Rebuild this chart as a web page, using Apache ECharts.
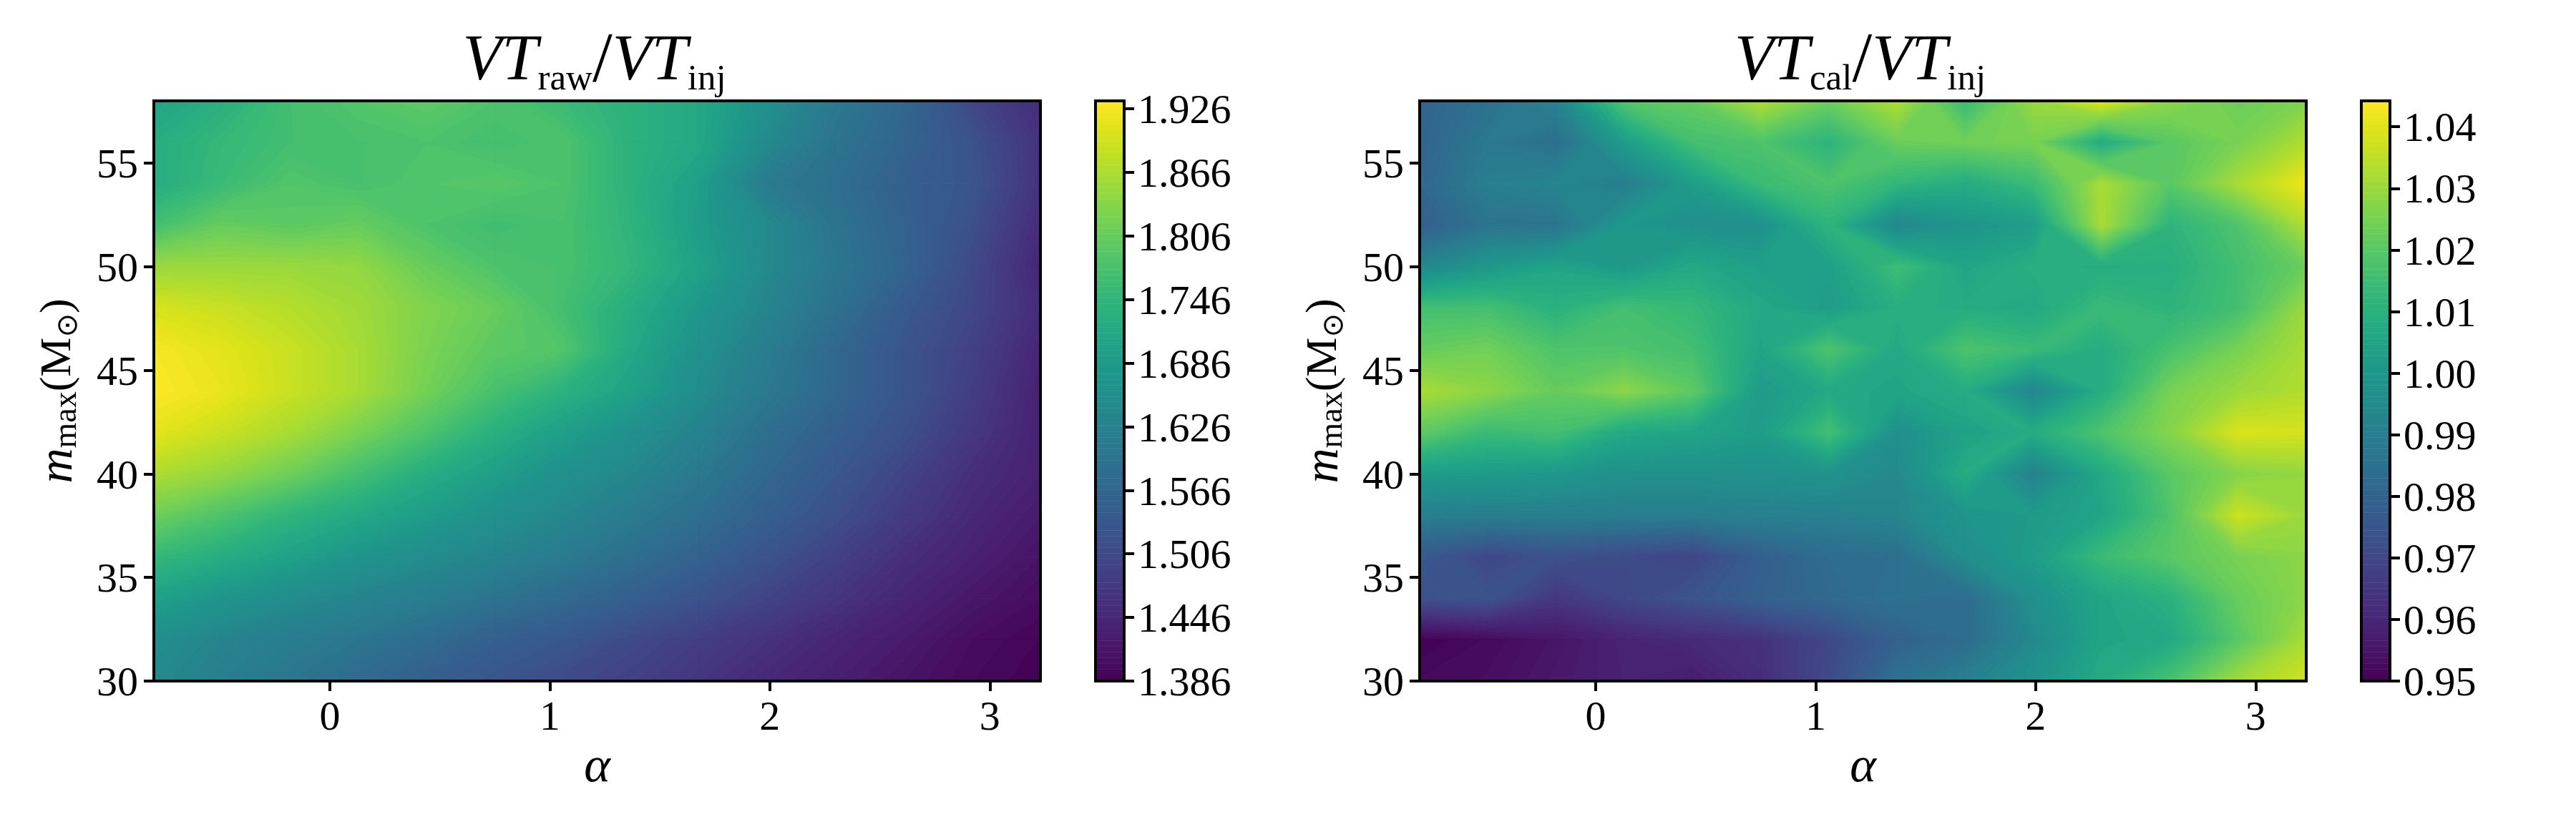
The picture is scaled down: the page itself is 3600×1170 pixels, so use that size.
<!DOCTYPE html>
<html>
<head>
<meta charset="utf-8">
<style>html,body{margin:0;padding:0;background:#fff}#chart{width:3600px;height:1170px}</style>
<script src="https://cdn.jsdelivr.net/npm/echarts@6/dist/echarts.min.js"></script>
</head>
<body>
<div id="chart"></div>
<script>
// Grid coordinates shared by both maps
const alphas = [-0.8,-0.49,-0.18,0.13,0.44,0.75,1.06,1.37,1.68,1.99,2.3,2.61,2.92,3.23];
const masses = [58,56,54,52,50,48,46,44,42,40,38,36,34,32,30];

// Ratio of raw sensitive volume to the injected one, one row per m_max
const vtRaw = [
  [1.703,1.731,1.769,1.785,1.796,1.780,1.758,1.736,1.714,1.660,1.605,1.567,1.500,1.452],
  [1.725,1.752,1.769,1.774,1.780,1.769,1.780,1.736,1.714,1.643,1.594,1.561,1.523,1.463],
  [1.725,1.758,1.785,1.774,1.785,1.791,1.780,1.736,1.692,1.610,1.583,1.550,1.528,1.463],
  [1.769,1.807,1.796,1.807,1.780,1.766,1.774,1.742,1.687,1.643,1.594,1.556,1.517,1.452],
  [1.851,1.851,1.851,1.845,1.807,1.780,1.774,1.747,1.698,1.643,1.599,1.561,1.506,1.441],
  [1.900,1.889,1.873,1.856,1.829,1.807,1.769,1.725,1.676,1.632,1.588,1.539,1.501,1.452],
  [1.928,1.911,1.889,1.862,1.824,1.796,1.785,1.714,1.660,1.616,1.567,1.528,1.490,1.441],
  [1.933,1.917,1.889,1.862,1.818,1.774,1.736,1.698,1.649,1.605,1.567,1.528,1.484,1.435],
  [1.911,1.889,1.862,1.824,1.780,1.731,1.692,1.660,1.627,1.583,1.550,1.517,1.474,1.435],
  [1.867,1.845,1.813,1.769,1.725,1.692,1.660,1.638,1.605,1.567,1.534,1.495,1.457,1.435],
  [1.813,1.780,1.742,1.714,1.687,1.660,1.638,1.610,1.583,1.550,1.517,1.479,1.446,1.424],
  [1.752,1.725,1.698,1.670,1.649,1.632,1.610,1.583,1.556,1.523,1.490,1.457,1.435,1.413],
  [1.698,1.670,1.649,1.632,1.616,1.594,1.572,1.550,1.523,1.495,1.468,1.441,1.419,1.402],
  [1.654,1.632,1.616,1.599,1.577,1.550,1.534,1.506,1.484,1.463,1.441,1.424,1.402,1.391],
  [1.643,1.621,1.599,1.572,1.550,1.528,1.506,1.490,1.468,1.446,1.430,1.413,1.397,1.386]
];

// Same ratio after calibration
const vtCal = [
  [0.980,0.985,0.992,1.019,1.022,1.033,1.023,1.033,1.014,1.030,1.040,1.028,1.023,1.026],
  [0.980,0.988,0.984,1.002,1.016,1.018,1.011,1.023,1.024,1.025,1.008,1.020,1.025,1.033],
  [0.981,0.990,0.993,0.990,1.002,1.014,1.018,1.012,1.008,1.014,1.032,1.020,1.032,1.042],
  [0.978,0.986,0.986,1.000,0.997,0.997,1.011,0.993,0.999,1.002,1.032,1.011,1.018,1.033],
  [0.993,1.000,1.005,1.000,1.0065,1.003,1.003,1.015,1.005,1.009,1.008,1.009,1.016,1.023],
  [1.016,1.016,1.010,1.016,1.013,1.0065,1.002,1.009,1.008,1.0065,1.014,1.011,1.016,1.030],
  [1.022,1.024,1.018,1.018,1.016,1.005,1.018,1.0065,1.018,1.014,1.008,1.017,1.025,1.032],
  [1.032,1.028,1.022,1.028,1.021,1.001,1.0065,1.005,1.008,0.993,1.008,1.025,1.030,1.033],
  [1.021,1.014,1.016,1.0065,1.005,1.002,1.016,0.997,1.004,1.008,1.018,1.027,1.039,1.038],
  [1.002,1.001,1.000,0.997,0.997,0.997,0.998,0.994,1.008,0.991,1.0065,1.020,1.027,1.029],
  [0.990,0.990,0.990,0.990,0.990,0.991,0.991,0.993,0.999,1.001,1.005,1.018,1.037,1.030],
  [0.976,0.970,0.973,0.971,0.969,0.978,0.983,0.984,0.996,1.002,1.014,1.020,1.025,1.028],
  [0.973,0.974,0.965,0.970,0.974,0.979,0.982,0.985,0.983,0.997,1.005,1.010,1.0225,1.028],
  [0.950,0.952,0.955,0.959,0.961,0.963,0.970,0.979,0.983,0.994,1.005,1.0065,1.020,1.032],
  [0.952,0.953,0.956,0.9585,0.957,0.962,0.971,0.985,0.9905,0.998,1.0075,1.017,1.031,1.0375]
];

const alphaTicks = [0,1,2,3];
const massTicks = [30,35,40,45,50,55];
const rawBarTicks = [1.386,1.446,1.506,1.566,1.626,1.686,1.746,1.806,1.866,1.926];
const calBarTicks = [0.95,0.96,0.97,0.98,0.99,1.00,1.01,1.02,1.03,1.04];

const viridis = ['#440154','#481567','#482677','#453781','#404788','#39568c','#33638d','#2d708e','#287d8e','#238a8d',
                 '#1f968b','#20a387','#29af7f','#3cbb75','#55c667','#73d055','#95d840','#b8de29','#dce319','#fde725'];

const BAND_COUNT = 100;
const SERIF = '"Liberation Serif", serif';

function colourAt(t) {
  const p = Math.max(0, Math.min(1, t)) * (viridis.length - 1);
  const i = Math.min(Math.floor(p), viridis.length - 2);
  const f = p - i;
  const rgb = k => {
    const a = parseInt(viridis[i].substr(1 + 2 * k, 2), 16);
    const b = parseInt(viridis[i + 1].substr(1 + 2 * k, 2), 16);
    return Math.round(a + (b - a) * f);
  };
  return `rgb(${rgb(0)},${rgb(1)},${rgb(2)})`;
}

// Outline of the part of a cell whose value lies between lo and hi
function bandOutline(corners, lo, hi) {
  const out = [];
  for (let n = 0; n < corners.length; n++) {
    const p = corners[n], q = corners[(n + 1) % corners.length];
    if (p[2] >= lo && p[2] <= hi) out.push([p[0], p[1]]);
    const cuts = p[2] < q[2] ? [lo, hi] : [hi, lo];
    for (const c of cuts) {
      if ((c > p[2] && c < q[2]) || (c < p[2] && c > q[2])) {
        const f = (c - p[2]) / (q[2] - p[2]);
        out.push([p[0] + (q[0] - p[0]) * f, p[1] + (q[1] - p[1]) * f]);
      }
    }
  }
  return out;
}

function contourSeries(values, barMin, barMax, axisIndex) {
  const step = (barMax - barMin) / BAND_COUNT;
  const cells = [];
  for (let r = 0; r < masses.length - 1; r++) {
    for (let c = 0; c < alphas.length - 1; c++) cells.push([alphas[c], masses[r], c, r]);
  }
  return {
    type: 'custom',
    coordinateSystem: 'cartesian2d',
    xAxisIndex: axisIndex,
    yAxisIndex: axisIndex,
    z: 1,
    silent: true,
    animation: false,
    encode: { x: 0, y: 1 },
    data: cells,
    renderItem(params, api) {
      const c = api.value(2), r = api.value(3);
      const corners = [
        [alphas[c], masses[r], values[r][c]],
        [alphas[c + 1], masses[r], values[r][c + 1]],
        [alphas[c + 1], masses[r + 1], values[r + 1][c + 1]],
        [alphas[c], masses[r + 1], values[r + 1][c]]
      ];
      const vals = corners.map(p => p[2]);
      const first = Math.max(0, Math.floor((Math.min(...vals) - barMin) / step));
      const last = Math.min(BAND_COUNT - 1, Math.floor((Math.max(...vals) - barMin) / step));
      const children = [];
      for (let b = first; b <= last; b++) {
        const pts = bandOutline(corners, barMin + b * step, barMin + (b + 1) * step);
        if (pts.length < 3) continue;
        const fill = colourAt((b + 0.5) / BAND_COUNT);
        children.push({
          type: 'polygon',
          shape: { points: pts.map(p => api.coord(p)) },
          style: { fill, stroke: fill, lineWidth: 1 }
        });
      }
      return { type: 'group', children };
    }
  };
}

function colourbarSeries(barMin, barMax, axisIndex) {
  const step = (barMax - barMin) / BAND_COUNT;
  const bands = [];
  for (let b = 0; b < BAND_COUNT; b++) bands.push([0, barMin + b * step, b]);
  return {
    type: 'custom',
    coordinateSystem: 'cartesian2d',
    xAxisIndex: axisIndex,
    yAxisIndex: axisIndex,
    z: 1,
    silent: true,
    animation: false,
    encode: { x: 0, y: 1 },
    data: bands,
    renderItem(params, api) {
      const low = api.value(1);
      const a = api.coord([0, low]);
      const b = api.coord([1, low + step]);
      const fill = colourAt((api.value(2) + 0.5) / BAND_COUNT);
      return {
        type: 'rect',
        shape: { x: a[0], y: b[1], width: b[0] - a[0], height: a[1] - b[1] },
        style: { fill, stroke: fill, lineWidth: 0.5 }
      };
    }
  };
}

const frameLine = { show: true, onZero: false, lineStyle: { color: '#000', width: 4, cap: 'square' } };
const tickStyle = { color: '#000', width: 4 };
const labelFont = { color: '#000', fontFamily: SERIF, fontSize: 58, fontWeight: 'normal' };
// Digits sit a little below their tick: a thin top-anchored line box moves the glyph centre down
const sideLabelShift = { verticalAlign: 'top', lineHeight: 10 };

function titleText(sub) { return `{v|VT}{s|${sub}}{n|/}{v|VT}{s|inj}`; }
const titleRich = {
  v: { fontFamily: SERIF, fontStyle: 'italic', fontWeight: 'normal', fontSize: 90, lineHeight: 100, color: '#000' },
  n: { fontFamily: SERIF, fontWeight: 'normal', fontSize: 100, lineHeight: 72, verticalAlign: 'bottom', color: '#000' },
  s: { fontFamily: SERIF, fontWeight: 'normal', fontSize: 51, lineHeight: 54, verticalAlign: 'bottom', color: '#000' }
};

const massName = '{m|m}{l|max}{p|(M}{o|⊙}{p|)}';
const massRich = {
  m: { fontFamily: SERIF, fontStyle: 'italic', fontSize: 68, lineHeight: 70, color: '#000' },
  l: { fontFamily: SERIF, fontSize: 46, lineHeight: 40, verticalAlign: 'bottom', color: '#000' },
  p: { fontFamily: SERIF, fontSize: 62, lineHeight: 70, color: '#000' },
  o: { fontFamily: '"DejaVu Sans"', fontSize: 40, lineHeight: 40, verticalAlign: 'bottom', color: '#000' }
};

const panels = [
  { left: 215, values: vtRaw, barMin: 1.386, barMax: 1.9335, ticks: rawBarTicks, digits: 3, sub: 'raw' },
  { left: 1984, values: vtCal, barMin: 0.95, barMax: 1.0442, ticks: calBarTicks, digits: 2, sub: 'cal' }
];

const TOP = 141, HEIGHT = 811, WIDTH = 1239, BAR_OFFSET = 1316, BAR_WIDTH = 40;
const grid = [], xAxis = [], yAxis = [], series = [], title = [];

function addPlainAxes(gridIndex, xMin, xMax, yMin, yMax) {
  xAxis.push({ type: 'value', gridIndex, min: xMin, max: xMax, position: 'bottom', z: 5,
    axisLine: frameLine, axisTick: { show: false }, axisLabel: { show: false }, splitLine: { show: false } });
  xAxis.push({ type: 'value', gridIndex, min: xMin, max: xMax, position: 'top', z: 5,
    axisLine: frameLine, axisTick: { show: false }, axisLabel: { show: false }, splitLine: { show: false } });
  yAxis.push({ type: 'value', gridIndex, min: yMin, max: yMax, position: 'left', z: 5,
    axisLine: frameLine, axisTick: { show: false }, axisLabel: { show: false }, splitLine: { show: false } });
  yAxis.push({ type: 'value', gridIndex, min: yMin, max: yMax, position: 'right', z: 5,
    axisLine: frameLine, axisTick: { show: false }, axisLabel: { show: false }, splitLine: { show: false } });
}

panels.forEach(panel => {
  const mapIndex = grid.length;
  grid.push({ left: panel.left, top: TOP, width: WIDTH, height: HEIGHT });
  addPlainAxes(mapIndex, alphas[0], alphas[alphas.length - 1], 30, 58);
  Object.assign(xAxis[2 * mapIndex], {
    axisTick: { show: true, length: 14, inside: false, lineStyle: tickStyle, customValues: alphaTicks },
    axisLabel: { show: true, margin: 24, customValues: alphaTicks, formatter: v => String(v), ...labelFont },
    name: 'α', nameLocation: 'middle', nameGap: 86,
    nameTextStyle: { fontFamily: SERIF, fontStyle: 'italic', fontWeight: 'normal', fontSize: 70, color: '#000' }
  });
  Object.assign(yAxis[2 * mapIndex], {
    axisTick: { show: true, length: 14, inside: false, lineStyle: tickStyle, customValues: massTicks },
    axisLabel: { show: true, margin: 22, customValues: massTicks, formatter: v => String(v), ...labelFont, ...sideLabelShift },
    name: massName, nameLocation: 'middle', nameRotate: 90, nameGap: 98,
    nameTextStyle: { rich: massRich }
  });
  series.push(contourSeries(panel.values, panel.barMin, panel.barMax, 2 * mapIndex));

  const barIndex = grid.length;
  grid.push({ left: panel.left + BAR_OFFSET, top: TOP, width: BAR_WIDTH, height: HEIGHT });
  addPlainAxes(barIndex, 0, 1, panel.barMin, panel.barMax);
  Object.assign(yAxis[2 * barIndex + 1], {
    axisTick: { show: true, length: 14, inside: false, lineStyle: tickStyle, customValues: panel.ticks },
    axisLabel: { show: true, margin: 19, customValues: panel.ticks, formatter: v => v.toFixed(panel.digits), ...labelFont, ...sideLabelShift }
  });
  series.push(colourbarSeries(panel.barMin, panel.barMax, 2 * barIndex));

  title.push({
    text: titleText(panel.sub),
    left: panel.left + WIDTH / 2 - 4,
    textAlign: 'center',
    top: 37,
    padding: 0,
    textStyle: { rich: titleRich }
  });
});

const chart = echarts.init(document.getElementById('chart'), null, { renderer: 'canvas' });
chart.setOption({ backgroundColor: '#fff', animation: false, title, grid, xAxis, yAxis, series });
</script>
</body>
</html>
